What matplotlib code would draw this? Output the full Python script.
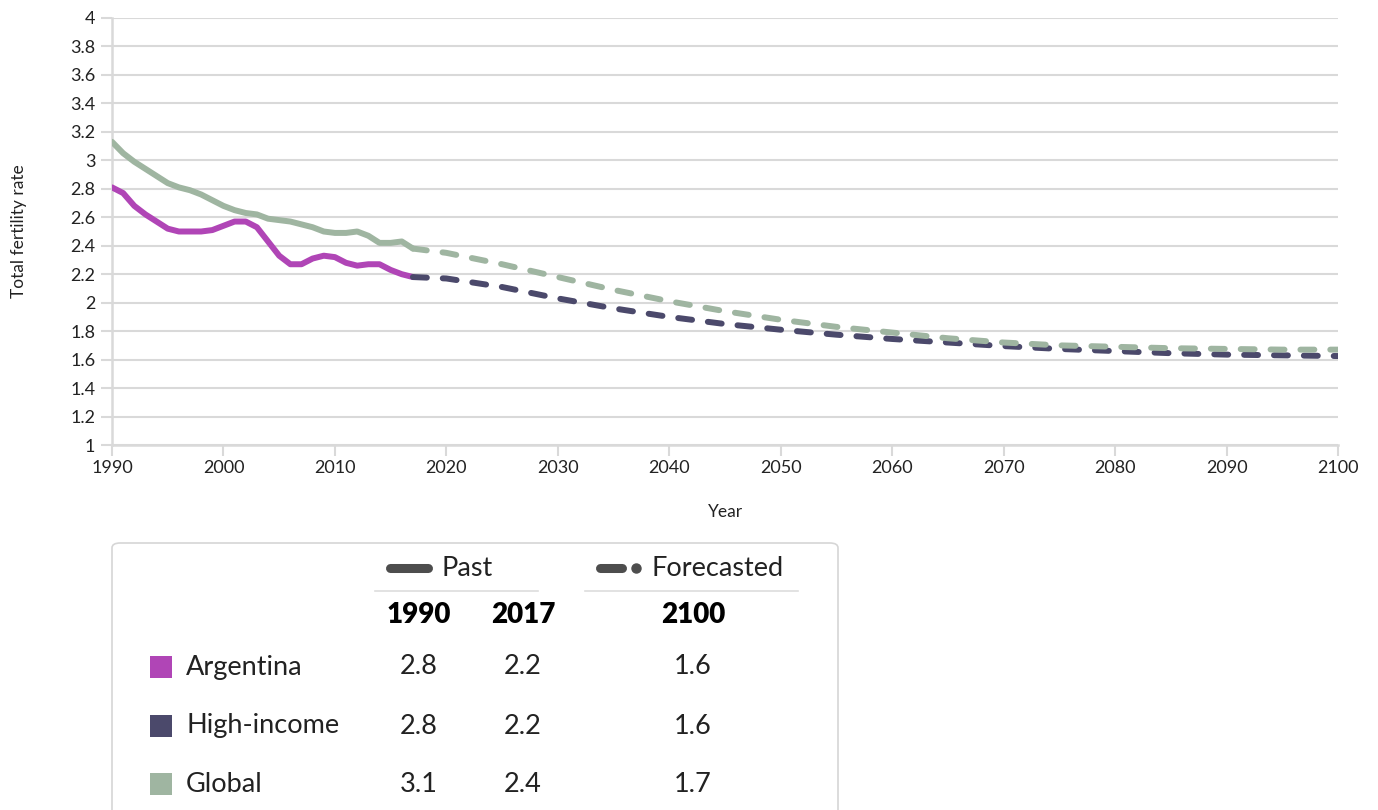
import matplotlib
matplotlib.use("Agg")
import matplotlib.pyplot as plt
import numpy as np
from matplotlib.lines import Line2D
from matplotlib.patches import FancyBboxPatch, Rectangle

# --- data ---
past_years = list(range(1990, 2018))
argentina_past = [2.81, 2.77, 2.68, 2.62, 2.57, 2.52, 2.50, 2.50, 2.50, 2.51,
                  2.54, 2.57, 2.57, 2.53, 2.43, 2.33, 2.27, 2.27, 2.31, 2.33,
                  2.32, 2.28, 2.26, 2.27, 2.27, 2.23, 2.20, 2.18]
global_past = [3.13, 3.05, 2.99, 2.94, 2.89, 2.84, 2.81, 2.79, 2.76, 2.72,
               2.68, 2.65, 2.63, 2.62, 2.59, 2.58, 2.57, 2.55, 2.53, 2.50,
               2.49, 2.49, 2.50, 2.47, 2.42, 2.42, 2.43, 2.38]

fc_years = [2017, 2020, 2025, 2030, 2035, 2040, 2045, 2050, 2055, 2060,
            2065, 2070, 2075, 2080, 2085, 2090, 2095, 2100]
highincome_fc = [2.18, 2.17, 2.11, 2.03, 1.96, 1.90, 1.85, 1.81, 1.775, 1.745,
                 1.72, 1.695, 1.675, 1.66, 1.645, 1.635, 1.63, 1.625]
global_fc = [2.38, 2.35, 2.27, 2.18, 2.09, 2.01, 1.94, 1.88, 1.83, 1.79,
             1.75, 1.72, 1.70, 1.69, 1.68, 1.675, 1.67, 1.67]

table_names = ["Argentina", "High-income", "Global"]
table_1990 = ["2.8", "2.8", "3.1"]
table_2017 = ["2.2", "2.2", "2.4"]
table_2100 = ["1.6", "1.6", "1.7"]

C_ARG = "#B045B6"
C_HI = "#4B496B"
C_GLB = "#9FB5A1"
GRID = "#D9D9D9"

plt.rcParams['font.family'] = ['Lato', 'DejaVu Sans']

W, H = 1378, 810
fig = plt.figure(figsize=(W / 100, H / 100), dpi=100)


def fx(x):
    return x / W


def fy(y):
    return 1 - y / H


ax = fig.add_axes([fx(112), fy(445), fx(1338) - fx(112), fy(18) - fy(445)])

lw = 4.3
dash = (2.33, 2.67)
ax.plot(past_years, global_past, color=C_GLB, lw=lw, solid_capstyle='round',
        solid_joinstyle='round', zorder=3)
ax.plot(past_years, argentina_past, color=C_ARG, lw=lw, solid_capstyle='round',
        solid_joinstyle='round', zorder=4)
ax.plot(fc_years, highincome_fc, color=C_HI, lw=lw, dashes=dash,
        dash_capstyle='round', dash_joinstyle='round', zorder=5)
ax.plot(fc_years, global_fc, color=C_GLB, lw=lw, dashes=dash,
        dash_capstyle='round', dash_joinstyle='round', zorder=6)

ax.set_xlim(1990, 2100)
ax.set_ylim(1, 4)
ax.set_xticks(np.arange(1990, 2101, 10))
yt = np.round(np.arange(1, 4.01, 0.2), 1)
ax.set_yticks(yt)
ax.set_yticklabels([f"{v:g}" for v in yt])
ax.grid(axis='y', color=GRID, lw=1.5)
ax.set_axisbelow(True)
for s in ['top', 'right']:
    ax.spines[s].set_visible(False)
for s in ['left', 'bottom']:
    ax.spines[s].set_color(GRID)
    ax.spines[s].set_linewidth(1.8)
ax.tick_params(axis='both', colors=GRID, labelcolor='#222222', labelsize=13,
               length=8, width=1.5)
ax.tick_params(axis='x', pad=3)
ax.tick_params(axis='y', pad=4)
ax.set_xlabel("Year", fontsize=12.5, color='#222222', labelpad=20)
ax.set_ylabel("Total fertility rate", fontsize=12.5, color='#222222', labelpad=31)

# --- legend table below the chart ---
box = FancyBboxPatch((fx(112), fy(840)), fx(838) - fx(112), fy(543) - fy(840),
                     boxstyle="round,pad=0,rounding_size=0.006",
                     transform=fig.transFigure, facecolor='white',
                     edgecolor='#D6D6D6', lw=1.2)
fig.patches.append(box)

fig.lines.append(Line2D([fx(390), fx(428)], [fy(568), fy(568)], color='#4D4D4D',
                        lw=6.5, solid_capstyle='round', transform=fig.transFigure))
fig.text(fx(441), fy(568), "Past", fontsize=19.5, color='#222222', va='center')
fig.lines.append(Line2D([fx(600), fx(622)], [fy(568), fy(568)], color='#4D4D4D',
                        lw=6.5, solid_capstyle='round', transform=fig.transFigure))
fig.lines.append(Line2D([fx(636)], [fy(568)], marker='o', ms=6.5, color='#4D4D4D',
                        transform=fig.transFigure))
fig.text(fx(652), fy(568), "Forecasted", fontsize=19.5, color='#222222', va='center')
fig.lines.append(Line2D([fx(375), fx(538)], [fy(591), fy(591)], color='#DDDDDD',
                        lw=1.2, transform=fig.transFigure))
fig.lines.append(Line2D([fx(585), fx(798)], [fy(591), fy(591)], color='#DDDDDD',
                        lw=1.2, transform=fig.transFigure))

col_x = [419, 523, 693]
for cx, lab in zip(col_x, ["1990", "2017", "2100"]):
    fig.text(fx(cx), fy(615), lab, fontsize=20, fontweight='heavy', color='black',
             ha='center', va='center')

row_y = [667, 726, 784]
for ry, name, a, b, c, col in zip(row_y, table_names, table_1990, table_2017,
                                  table_2100, [C_ARG, C_HI, C_GLB]):
    fig.patches.append(Rectangle((fx(150), fy(ry + 11)), fx(22), fy(0) - fy(22),
                                 transform=fig.transFigure, facecolor=col,
                                 edgecolor='none'))
    fig.text(fx(186), fy(ry), name, fontsize=19.5, color='#222222', va='center')
    for cx, v in zip(col_x, [a, b, c]):
        fig.text(fx(cx), fy(ry), v, fontsize=19.5, color='#222222',
                 ha='center', va='center')

fig.savefig("out.png", dpi=100)
